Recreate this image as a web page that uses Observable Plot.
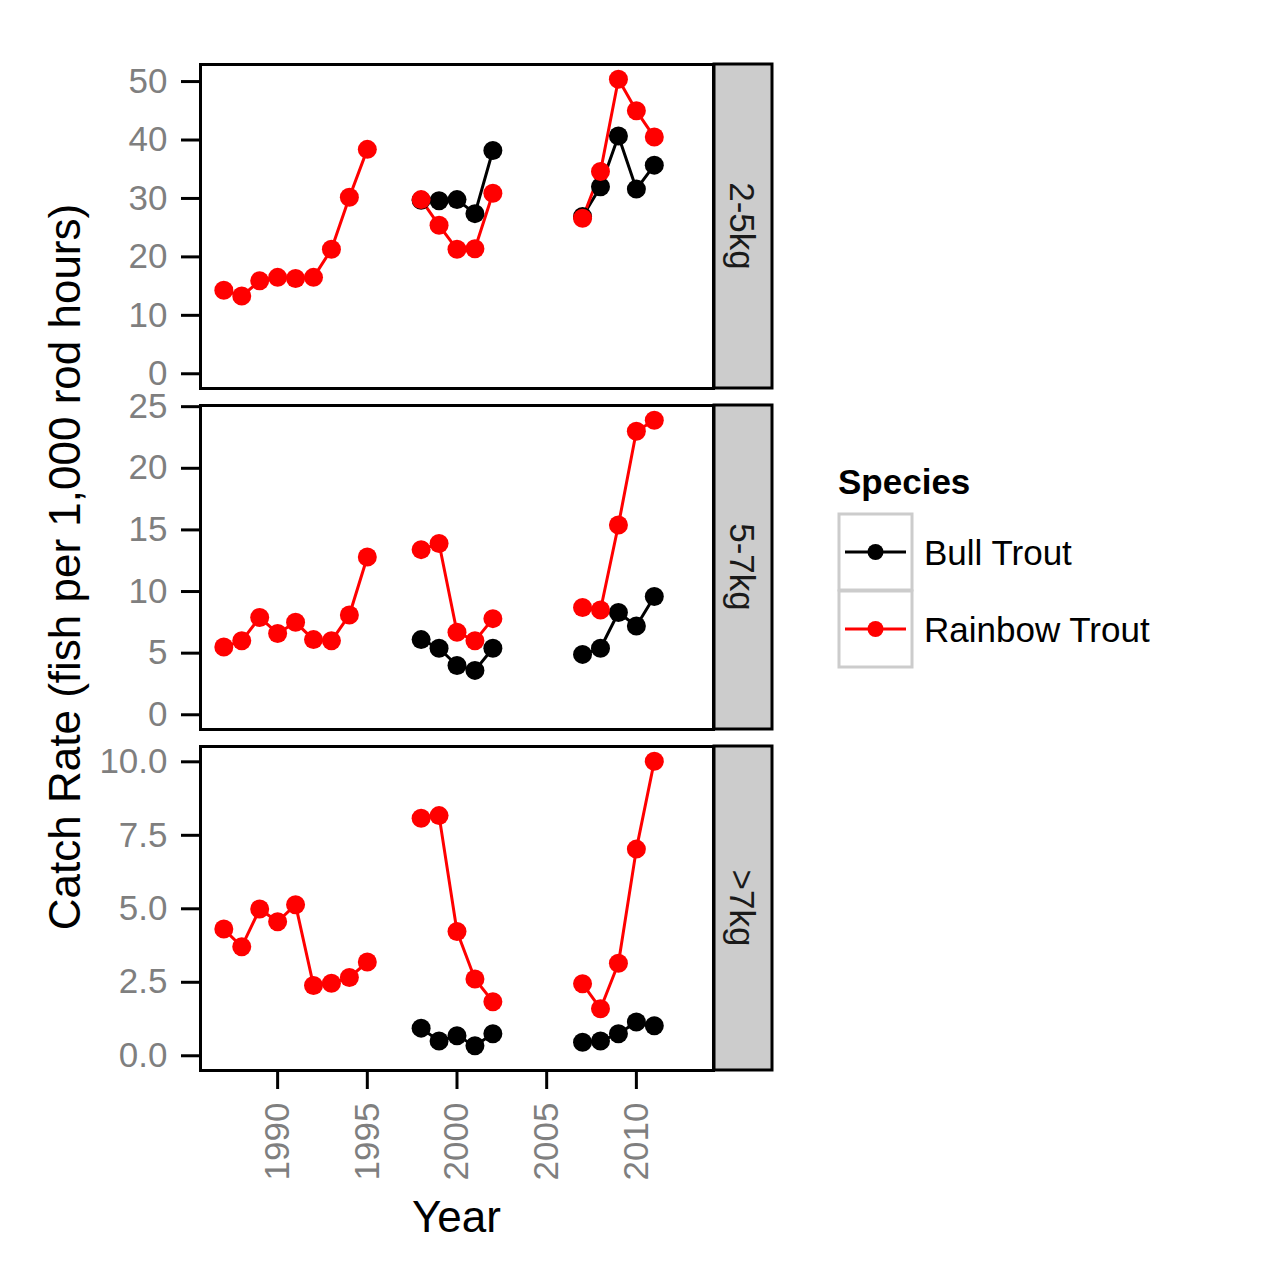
<!DOCTYPE html>
<html>
<head>
<meta charset="utf-8">
<script src="https://cdn.jsdelivr.net/npm/d3@7"></script>
<script src="https://cdn.jsdelivr.net/npm/@observablehq/plot@0.6"></script>
<style>
  body { margin: 0; background: #ffffff; }
  #root { position: relative; width: 1280px; height: 1280px; overflow: hidden; background: #ffffff; }
  #root svg.plotsvg { position: absolute; left: 0; }
  #overlay { position: absolute; left: 0; top: 0; }
</style>
</head>
<body>
<div id="root"></div>
<script>
// ---------------- data ----------------
const years = [1987,1988,1989,1990,1991,1992,1993,1994,1995,1996,1997,1998,1999,2000,2001,2002,2003,2004,2005,2006,2007,2008,2009,2010,2011];
const species = ["Bull Trout", "Rainbow Trout"];
const speciesColors = ["#000000", "#ff0000"];
const panelLabels = ["2-5kg", "5-7kg", ">7kg"];

const bull_2_5kg = [null,null,null,null,null,null,null,null,null,null,null, 29.7,29.6,29.8,27.4,38.2, null,null,null,null, 26.9,32.0,40.7,31.6,35.7];
const rain_2_5kg = [14.3,13.3,15.9,16.5,16.3,16.5,21.3,30.2,38.4, null,null, 29.8,25.4,21.3,21.4,30.9, null,null,null,null, 26.6,34.6,50.4,45.0,40.5];

const bull_5_7kg = [null,null,null,null,null,null,null,null,null,null,null, 6.1,5.4,4.0,3.6,5.4, null,null,null,null, 4.9,5.4,8.3,7.2,9.6];
const rain_5_7kg = [5.5,6.0,7.9,6.6,7.5,6.1,6.0,8.1,12.8, null,null, 13.4,13.9,6.7,6.0,7.8, null,null,null,null, 8.7,8.5,15.4,23.0,23.9];

const bull_gt7kg = [null,null,null,null,null,null,null,null,null,null,null, 0.94,0.50,0.68,0.34,0.75, null,null,null,null, 0.46,0.50,0.75,1.15,1.02];
const rain_gt7kg = [4.31,3.71,4.99,4.56,5.14,2.39,2.47,2.66,3.19, null,null, 8.08,8.17,4.23,2.61,1.84, null,null,null,null, 2.45,1.60,3.15,7.03,10.02];

const yTicks_2_5kg = [0, 10, 20, 30, 40, 50];
const yTicks_5_7kg = [0, 5, 10, 15, 20, 25];
const yTicks_gt7kg = [0, 2.5, 5, 7.5, 10];
const xTicks = [1990, 1995, 2000, 2005, 2010];
const xRange = [1987, 2013];

const yTitle = "Catch Rate (fish per 1,000 rod hours)";
const xTitle = "Year";
const legendTitle = "Species";

// ---------------- layout ----------------
const FONT = "'Liberation Sans', Arial, sans-serif";
const TICK_FS = 35, TITLE_FS = 44, LEG_FS = 35;
const W = 800, ML = 200, MR = 87;
const panelH = 324;
const panelTops = [64, 405, 746];
const xPad = 0.05 * (xRange[1] - xRange[0]);
const xDomain = [xRange[0] - xPad, xRange[1] + xPad];

const root = document.getElementById("root");

function makeRows(bull, rain) {
  const rows = [];
  years.forEach((yr, i) => rows.push({year: yr, species: species[0], value: bull[i]}));
  years.forEach((yr, i) => rows.push({year: yr, species: species[1], value: rain[i]}));
  return rows;
}

function panel(bull, rain, ticks, fmt, top, isBottom) {
  const rows = makeRows(bull, rain);
  const vals = rows.map(d => d.value).filter(v => v != null);
  const lo = Math.min(0, d3.min(vals)), hi = d3.max(vals);
  const pad = 0.05 * (hi - lo);
  const mt = 24, mb = isBottom ? 200 : 8;
  const marks = [
    Plot.axisY({ticks, tickFormat: fmt, tickSize: 19, tickPadding: 14,
      stroke: "#000000", strokeWidth: 3, fill: "#7f7f7f", fontSize: TICK_FS, label: null}),
    Plot.line(rows, {x: "year", y: "value", z: "species", stroke: "species", strokeWidth: 3}),
    Plot.dot(rows, {x: "year", y: "value", fill: "species", r: 9.5}),
    Plot.frame({stroke: "#000000", strokeWidth: 3})
  ];
  if (isBottom) {
    marks.unshift(Plot.axisX({ticks: xTicks, tickFormat: d => String(d), tickSize: 19, tickPadding: 13,
      tickRotate: -90, stroke: "#000000", strokeWidth: 3, fill: "#7f7f7f", fontSize: TICK_FS, label: null}));
  }
  const svg = Plot.plot({
    width: W, height: panelH + mt + mb,
    marginLeft: ML, marginRight: MR, marginTop: mt, marginBottom: mb,
    style: {fontFamily: FONT, fontSize: TICK_FS + "px", background: "transparent", overflow: "visible"},
    x: {domain: xDomain, axis: null},
    y: {domain: [lo - pad, hi + pad], axis: null},
    color: {domain: species, range: speciesColors},
    marks
  });
  svg.classList.add("plotsvg");
  svg.style.top = (top - mt) + "px";
  root.appendChild(svg);
}

// overlay (strips, titles, legend) drawn beneath the plots
const ns = "http://www.w3.org/2000/svg";
const ov = document.createElementNS(ns, "svg");
ov.setAttribute("id", "overlay");
ov.setAttribute("width", 1280);
ov.setAttribute("height", 1280);
root.appendChild(ov);
function el(tag, attrs, text) {
  const e = document.createElementNS(ns, tag);
  for (const k in attrs) e.setAttribute(k, attrs[k]);
  if (text != null) e.textContent = text;
  ov.appendChild(e);
  return e;
}

panelTops.forEach((t, i) => {
  el("rect", {x: 714, y: t, width: 58, height: panelH, fill: "#cccccc", stroke: "#000000", "stroke-width": 3});
  el("text", {transform: `translate(730,${t + panelH / 2}) rotate(90)`, "text-anchor": "middle",
    "font-family": FONT, "font-size": LEG_FS, fill: "#1a1a1a"}, panelLabels[i]);
});

el("text", {transform: `translate(80,${(panelTops[0] + panelTops[2] + panelH) / 2}) rotate(-90)`, "text-anchor": "middle",
  "font-family": FONT, "font-size": TITLE_FS, fill: "#000000"}, yTitle);
el("text", {x: ML + (W - ML - MR) / 2, y: 1232, "text-anchor": "middle",
  "font-family": FONT, "font-size": TITLE_FS, fill: "#000000"}, xTitle);

// legend
el("text", {x: 838, y: 494, "font-family": FONT, "font-size": LEG_FS, "font-weight": "bold", fill: "#000000"}, legendTitle);
species.forEach((s, i) => {
  const y0 = 514 + i * 77;
  el("rect", {x: 839, y: y0, width: 73, height: 76, fill: "#ffffff", stroke: "#cccccc", "stroke-width": 3});
  el("line", {x1: 845, x2: 906, y1: y0 + 38, y2: y0 + 38, stroke: speciesColors[i], "stroke-width": 3});
  el("circle", {cx: 875.5, cy: y0 + 38, r: 8, fill: speciesColors[i]});
  el("text", {x: 924, y: y0 + 51, "font-family": FONT, "font-size": LEG_FS, fill: "#000000"}, s);
});

panel(bull_2_5kg, rain_2_5kg, yTicks_2_5kg, d => String(d), panelTops[0], false);
panel(bull_5_7kg, rain_5_7kg, yTicks_5_7kg, d => String(d), panelTops[1], false);
panel(bull_gt7kg, rain_gt7kg, yTicks_gt7kg, d3.format(".1f"), panelTops[2], true);
</script>
</body>
</html>
